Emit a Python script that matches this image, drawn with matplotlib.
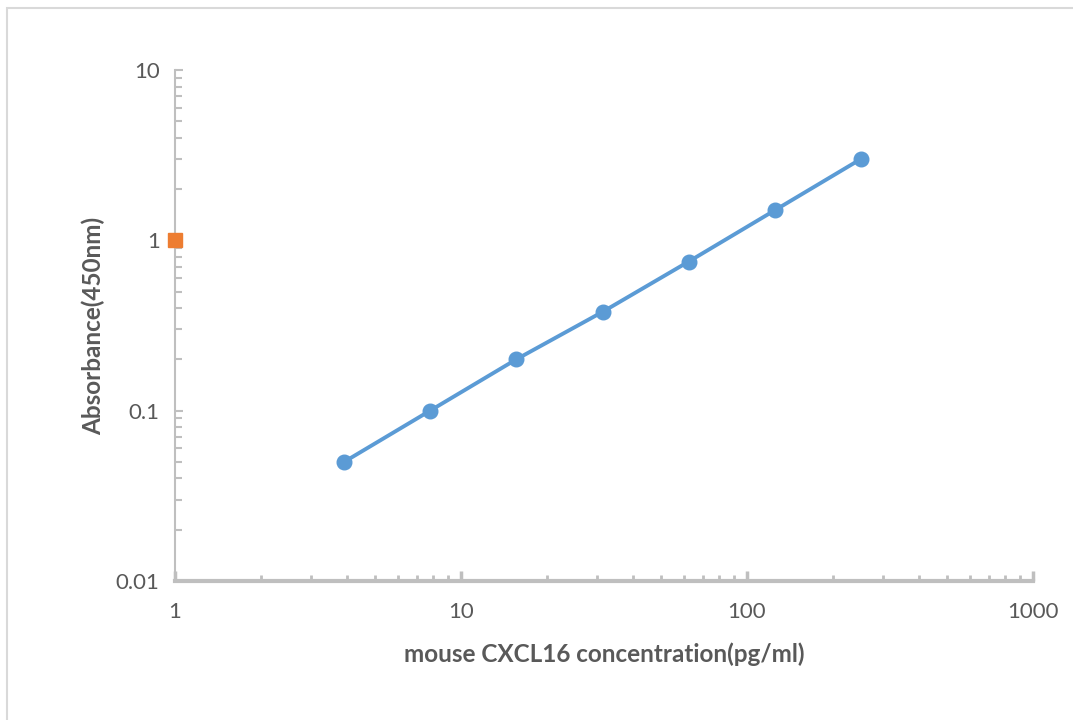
import numpy as np
import matplotlib
matplotlib.use("Agg")
import matplotlib.pyplot as plt
from matplotlib.ticker import LogLocator, FixedLocator, NullFormatter

# standard curve data
conc = [3.9, 7.8, 15.6, 31.25, 62.5, 125, 250]
absorb = [0.05, 0.1, 0.2, 0.38, 0.75, 1.5, 3.0]
# second series (single point)
extra_x = [1]
extra_y = [1]

x_ticks = [1, 10, 100, 1000]
x_ticklabels = ["1", "10", "100", "1000"]
y_ticks = [0.01, 0.1, 1, 10]
y_ticklabels = ["0.01", "0.1", "1", "10"]

plt.rcParams['font.family'] = ['Lato', 'DejaVu Sans']

axis_col = "#BFBFBF"
text_col = "#595959"

fig = plt.figure(figsize=(10.73, 7.2), dpi=100)
ax = fig.add_axes([175/1073, 1 - 581/720, (1033-175)/1073, (581-70)/720])

ax.plot(conc, absorb, color="#5B9BD5", lw=2.8, marker="o", ms=10.5,
        clip_on=False, zorder=3)
ax.plot(extra_x, extra_y, ls="none", marker="s", ms=10, color="#ED7D31",
        clip_on=False, zorder=4)

ax.set_xscale("log")
ax.set_yscale("log")
ax.set_xlim(1, 1000)
ax.set_ylim(0.01, 10)

ax.xaxis.set_major_locator(FixedLocator(x_ticks))
ax.set_xticklabels(x_ticklabels)
ax.yaxis.set_major_locator(FixedLocator(y_ticks))
ax.set_yticklabels(y_ticklabels)
ax.xaxis.set_minor_locator(LogLocator(base=10, subs=np.arange(2, 10), numticks=20))
ax.yaxis.set_minor_locator(LogLocator(base=10, subs=np.arange(2, 10), numticks=20))
ax.xaxis.set_minor_formatter(NullFormatter())
ax.yaxis.set_minor_formatter(NullFormatter())

for s in ["top", "right"]:
    ax.spines[s].set_visible(False)
ax.spines["bottom"].set_color(axis_col)
ax.spines["bottom"].set_linewidth(3)
ax.spines["left"].set_color(axis_col)
ax.spines["left"].set_linewidth(1.5)

ax.tick_params(axis="x", which="major", direction="in", length=7, width=2.5,
               color=axis_col, labelcolor=text_col, labelsize=16, pad=15)
ax.tick_params(axis="x", which="minor", direction="in", length=4.5, width=2,
               color=axis_col)
ax.tick_params(axis="y", which="major", direction="in", length=6, width=1.5,
               color=axis_col, labelcolor=text_col, labelsize=16, pad=11)
ax.tick_params(axis="y", which="minor", direction="in", length=5, width=1.5,
               color=axis_col)

ax.set_xlabel("mouse CXCL16 concentration(pg/ml)", fontsize=17.5, fontweight="bold",
              color=text_col, labelpad=15)
ax.set_ylabel("Absorbance(450nm)", fontsize=17.5, fontweight="bold",
              color=text_col, labelpad=8)

# chart area frame
fig.patches.append(plt.Rectangle((7/1073, -0.1), 1.2, 1 - 8/720 + 0.1,
                                 transform=fig.transFigure, fill=False,
                                 edgecolor="#D9D9D9", lw=1.5))

fig.savefig("out.png", dpi=100)
